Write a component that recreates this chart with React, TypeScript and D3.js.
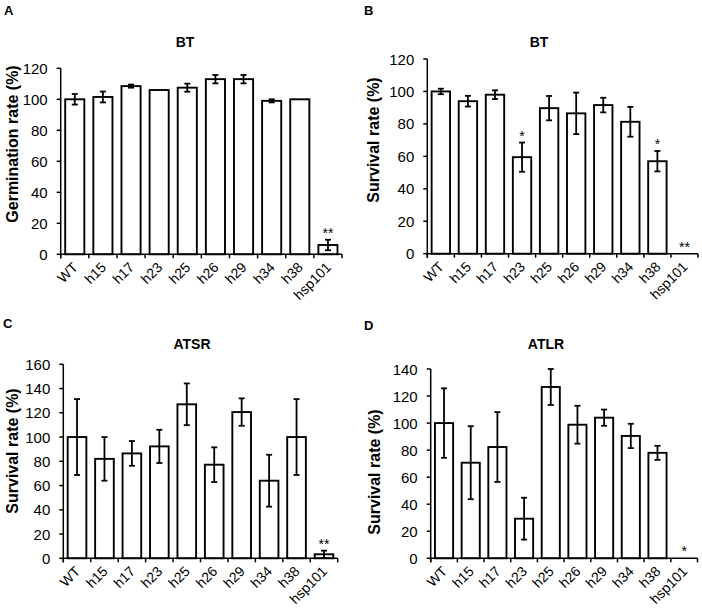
import React from "react";
import * as d3 from "d3";

const categories = ["WT", "h15", "h17", "h23", "h25", "h26", "h29", "h34", "h38", "hsp101"];

const germBT = [100, 101.5, 108.5, 106, 107.5, 113, 113, 99, 100, 6];
const germBTErr = [3.4, 3.5, 1, 0, 2.6, 2.7, 2.7, 1, 0, 3.4];
const germBTSig = ["", "", "", "", "", "", "", "", "", "**"];

const survBT = [100, 94, 98, 59.5, 89.7, 86.5, 91.6, 81.3, 57, 0];
const survBTErr = [1.7, 3.3, 2.7, 9, 7.5, 12.8, 4.5, 9.2, 6.3, 0];
const survBTSig = ["", "", "", "*", "", "", "", "", "*", "**"];

const survATSR = [100, 82, 86.5, 92.3, 127, 77.2, 120.6, 64, 100, 3.3];
const survATSRErr = [31.3, 18, 10.2, 13.7, 17.2, 14.3, 11.3, 21.4, 31.3, 3];
const survATSRSig = ["", "", "", "", "", "", "", "", "", "**"];

const survATLR = [100, 70.7, 82.3, 29.3, 126.7, 98.8, 104, 90.5, 78, 0];
const survATLRErr = [25.7, 27, 25.8, 15.5, 13.3, 14, 6, 9, 5.2, 0];
const survATLRSig = ["", "", "", "", "", "", "", "", "", "*"];

const FONT = "Liberation Sans, Arial, Helvetica, sans-serif";

type PanelProps = {
  letter: string;
  letterX: number;
  letterY: number;
  title: string;
  titleX: number;
  titleY: number;
  yLabel: string;
  yLabelX: number;
  yLabelY: number;
  left: number;
  right: number;
  top: number;
  bottom: number;
  yMax: number;
  values: number[];
  errs: number[];
  sig: string[];
};

function Panel(p: PanelProps) {
  const x = d3
    .scaleBand<string>()
    .domain(categories)
    .range([p.left, p.right])
    .paddingInner(0.32)
    .paddingOuter(0.16);
  const y = d3.scaleLinear().domain([0, p.yMax]).range([p.bottom, p.top]);
  const yTicks = d3.range(0, p.yMax + 1, 20);
  const step = x.step();
  const bw = x.bandwidth();
  const capW = 3;
  return (
    <g>
      <text x={p.letterX} y={p.letterY} fontFamily={FONT} fontWeight="bold" fontSize={13}>
        {p.letter}
      </text>
      <text x={p.titleX} y={p.titleY} fontFamily={FONT} fontWeight="bold" fontSize={14} textAnchor="middle">
        {p.title}
      </text>
      <text
        transform={`translate(${p.yLabelX},${p.yLabelY}) rotate(-90)`}
        fontFamily={FONT}
        fontWeight="bold"
        fontSize={16}
        textAnchor="middle"
        dominantBaseline="central"
      >
        {p.yLabel}
      </text>
      {/* bars */}
      {categories.map((c, i) => {
        const v = p.values[i];
        if (v <= 0) return null;
        return (
          <rect
            key={"b" + c}
            x={x(c)!}
            y={y(v)}
            width={bw}
            height={y(0) - y(v)}
            fill="#fff"
            stroke="#000"
            strokeWidth={1.9}
          />
        );
      })}
      {/* error bars */}
      {categories.map((c, i) => {
        const e = p.errs[i];
        if (e <= 0) return null;
        const cx = x(c)! + bw / 2;
        const v = p.values[i];
        const y1 = y(v + e);
        const y2 = y(Math.max(0, v - e));
        return (
          <g key={"e" + c} stroke="#000" strokeWidth={1.8}>
            <line x1={cx} x2={cx} y1={y1} y2={y2} />
            <line x1={cx - capW} x2={cx + capW} y1={y1} y2={y1} />
            <line x1={cx - capW} x2={cx + capW} y1={y2} y2={y2} />
          </g>
        );
      })}
      {/* significance */}
      {categories.map((c, i) => {
        const s = p.sig[i];
        if (!s) return null;
        const cx = x(c)! + bw / 2;
        return (
          <text
            key={"s" + c}
            x={cx}
            y={y(p.values[i] + p.errs[i]) - 2}
            fontFamily={FONT}
            fontSize={14}
            textAnchor="middle"
          >
            {s}
          </text>
        );
      })}
      {/* y axis */}
      <line x1={p.left} x2={p.left} y1={y(p.yMax)} y2={p.bottom + 4} stroke="#000" strokeWidth={1.5} />
      {yTicks.map((t) => (
        <g key={"yt" + t}>
          <line x1={p.left - 4} x2={p.left} y1={y(t)} y2={y(t)} stroke="#000" strokeWidth={1.5} />
          <text
            x={p.left - 13}
            y={y(t)}
            fontFamily={FONT}
            fontSize={15}
            textAnchor="end"
            dominantBaseline="central"
          >
            {t}
          </text>
        </g>
      ))}
      {/* x axis */}
      <line x1={p.left} x2={p.right} y1={p.bottom} y2={p.bottom} stroke="#000" strokeWidth={1.5} />
      {d3.range(0, categories.length + 1).map((k) => (
        <line
          key={"xt" + k}
          x1={p.left + k * step}
          x2={p.left + k * step}
          y1={p.bottom}
          y2={p.bottom + 4}
          stroke="#000"
          strokeWidth={1.5}
        />
      ))}
      {categories.map((c) => {
        const cx = x(c)! + bw / 2;
        return (
          <text
            key={"xl" + c}
            transform={`translate(${cx + 4},${p.bottom + 14}) rotate(-45)`}
            fontFamily={FONT}
            fontSize={14}
            textAnchor="end"
          >
            {c}
          </text>
        );
      })}
    </g>
  );
}

export default function App() {
  return (
    <svg width={702} height={614} style={{ position: "absolute", left: 0, top: 0, background: "#fff" }}>
      <rect x={0} y={0} width={702} height={614} fill="#fff" />
      <Panel
        letter="A"
        letterX={4}
        letterY={15}
        title="BT"
        titleX={185}
        titleY={47}
        yLabel="Germination rate (%)"
        yLabelX={12}
        yLabelY={144}
        left={60.7}
        right={342}
        top={68.3}
        bottom={254.3}
        yMax={120}
        values={germBT}
        errs={germBTErr}
        sig={germBTSig}
      />
      <Panel
        letter="B"
        letterX={364}
        letterY={15}
        title="BT"
        titleX={539}
        titleY={47}
        yLabel="Survival rate (%)"
        yLabelX={373}
        yLabelY={140}
        left={427.3}
        right={698}
        top={59}
        bottom={253.7}
        yMax={120}
        values={survBT}
        errs={survBTErr}
        sig={survBTSig}
      />
      <Panel
        letter="C"
        letterX={3}
        letterY={328}
        title="ATSR"
        titleX={192}
        titleY={349}
        yLabel="Survival rate (%)"
        yLabelX={12}
        yLabelY={451}
        left={63.3}
        right={337.7}
        top={364.3}
        bottom={558.3}
        yMax={160}
        values={survATSR}
        errs={survATSRErr}
        sig={survATSRSig}
      />
      <Panel
        letter="D"
        letterX={364}
        letterY={330}
        title="ATLR"
        titleX={546}
        titleY={349}
        yLabel="Survival rate (%)"
        yLabelX={374}
        yLabelY={472}
        left={430.7}
        right={697.5}
        top={369}
        bottom={558.3}
        yMax={140}
        values={survATLR}
        errs={survATLRErr}
        sig={survATLRSig}
      />
    </svg>
  );
}
